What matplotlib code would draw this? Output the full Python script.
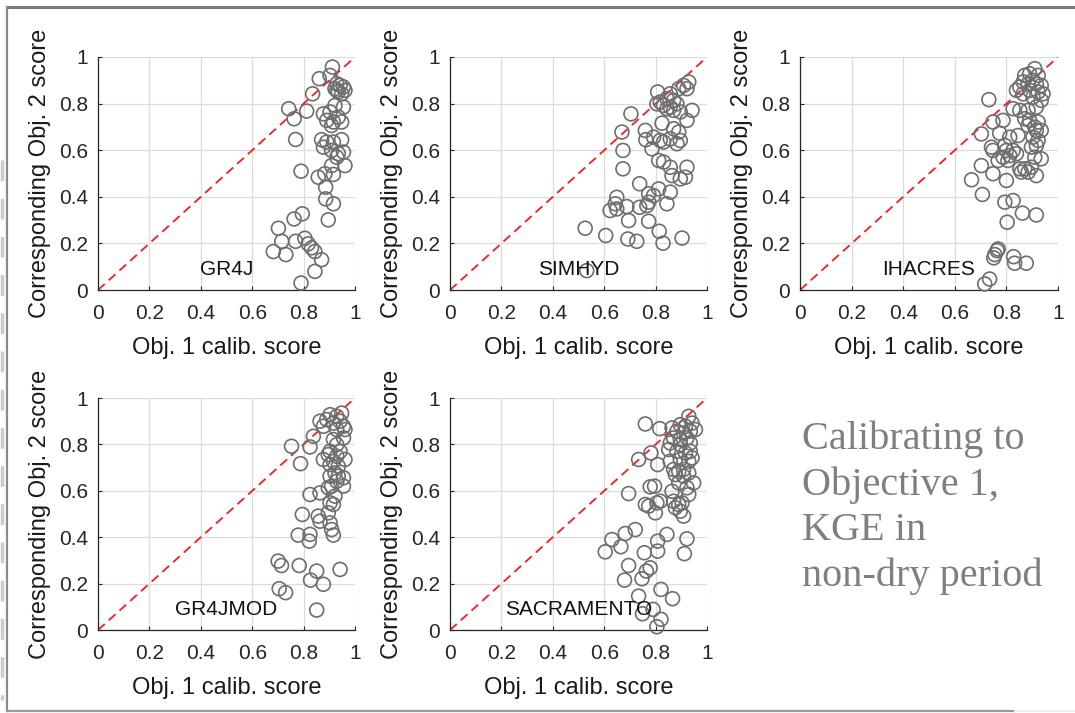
import matplotlib
matplotlib.use("Agg")
import matplotlib.pyplot as plt
from matplotlib.lines import Line2D

# calibration scores: x = objective 1 score, y = corresponding objective 2 score
gr4j_x = [0.912, 0.861, 0.903, 0.929, 0.942, 0.955, 0.922, 0.961, 0.935, 0.948, 0.929, 0.835,
          0.742, 0.812, 0.763, 0.922, 0.955, 0.877, 0.903, 0.935, 0.890, 0.916, 0.948, 0.909,
          0.769, 0.870, 0.890, 0.916, 0.948, 0.877, 0.909, 0.935, 0.955, 0.929, 0.961, 0.790,
          0.857, 0.883, 0.916, 0.909, 0.886, 0.886, 0.916, 0.896, 0.763, 0.795, 0.702, 0.715,
          0.769, 0.805, 0.818, 0.831, 0.844, 0.870, 0.682, 0.731, 0.844, 0.790]
gr4j_y = [0.957, 0.907, 0.921, 0.885, 0.878, 0.871, 0.864, 0.857, 0.850, 0.842, 0.857, 0.842,
          0.778, 0.768, 0.735, 0.792, 0.785, 0.756, 0.764, 0.742, 0.728, 0.721, 0.721, 0.706,
          0.646, 0.645, 0.635, 0.635, 0.645, 0.613, 0.599, 0.585, 0.592, 0.570, 0.534, 0.510,
          0.484, 0.499, 0.496, 0.534, 0.441, 0.391, 0.370, 0.301, 0.305, 0.327, 0.265, 0.209,
          0.209, 0.222, 0.198, 0.181, 0.165, 0.130, 0.165, 0.152, 0.080, 0.030]

simhyd_x = [0.929, 0.909, 0.890, 0.922, 0.808, 0.857, 0.844, 0.870, 0.818, 0.831, 0.857, 0.883,
            0.805, 0.844, 0.870, 0.942, 0.896, 0.922, 0.704, 0.825, 0.870, 0.890, 0.857, 0.896,
            0.883, 0.669, 0.760, 0.762, 0.792, 0.818, 0.831, 0.786, 0.673, 0.812, 0.831, 0.857,
            0.864, 0.896, 0.916, 0.922, 0.673, 0.738, 0.812, 0.773, 0.792, 0.857, 0.844, 0.649,
            0.643, 0.623, 0.649, 0.688, 0.738, 0.773, 0.766, 0.695, 0.773, 0.526, 0.606, 0.692,
            0.727, 0.814, 0.829, 0.903, 0.532]
simhyd_y = [0.893, 0.878, 0.864, 0.864, 0.850, 0.842, 0.821, 0.814, 0.807, 0.792, 0.785, 0.799,
            0.799, 0.778, 0.771, 0.771, 0.764, 0.728, 0.756, 0.716, 0.692, 0.678, 0.649, 0.642,
            0.628, 0.678, 0.685, 0.645, 0.656, 0.642, 0.635, 0.606, 0.599, 0.556, 0.549, 0.527,
            0.491, 0.477, 0.484, 0.527, 0.520, 0.456, 0.434, 0.413, 0.405, 0.420, 0.370, 0.398,
            0.370, 0.341, 0.348, 0.358, 0.355, 0.377, 0.362, 0.298, 0.295, 0.265, 0.234, 0.219,
            0.209, 0.252, 0.201, 0.223, 0.083]

ihacres_x = [0.910, 0.871, 0.890, 0.923, 0.903, 0.865, 0.852, 0.884, 0.916, 0.935, 0.839, 0.890,
             0.923, 0.942, 0.865, 0.903, 0.935, 0.732, 0.826, 0.852, 0.884, 0.916, 0.871, 0.890,
             0.923, 0.884, 0.910, 0.748, 0.787, 0.703, 0.774, 0.813, 0.845, 0.916, 0.935, 0.903,
             0.923, 0.897, 0.916, 0.742, 0.748, 0.794, 0.800, 0.826, 0.839, 0.787, 0.768, 0.806,
             0.813, 0.910, 0.935, 0.897, 0.703, 0.748, 0.800, 0.852, 0.871, 0.884, 0.916, 0.858,
             0.665, 0.707, 0.794, 0.826, 0.862, 0.916, 0.803, 0.764, 0.755, 0.751, 0.768, 0.828,
             0.832, 0.877, 0.735, 0.716]
ihacres_y = [0.950, 0.921, 0.928, 0.921, 0.900, 0.893, 0.871, 0.885, 0.885, 0.878, 0.857, 0.857,
             0.850, 0.842, 0.842, 0.828, 0.814, 0.817, 0.778, 0.771, 0.771, 0.785, 0.735, 0.728,
             0.721, 0.706, 0.699, 0.721, 0.728, 0.670, 0.673, 0.656, 0.663, 0.685, 0.685, 0.656,
             0.642, 0.613, 0.620, 0.613, 0.599, 0.620, 0.599, 0.599, 0.585, 0.570, 0.556, 0.556,
             0.577, 0.570, 0.563, 0.527, 0.534, 0.499, 0.470, 0.520, 0.520, 0.506, 0.491, 0.506,
             0.473, 0.410, 0.377, 0.384, 0.330, 0.322, 0.291, 0.169, 0.152, 0.138, 0.176, 0.143,
             0.115, 0.115, 0.047, 0.026]

gr4jmod_x = [0.948, 0.903, 0.929, 0.864, 0.890, 0.916, 0.942, 0.955, 0.929, 0.961, 0.877, 0.838,
             0.753, 0.825, 0.916, 0.955, 0.929, 0.903, 0.942, 0.788, 0.877, 0.896, 0.929, 0.961,
             0.916, 0.903, 0.935, 0.922, 0.903, 0.935, 0.955, 0.929, 0.955, 0.909, 0.896, 0.825,
             0.864, 0.922, 0.903, 0.916, 0.795, 0.857, 0.864, 0.896, 0.903, 0.909, 0.916, 0.779,
             0.825, 0.822, 0.701, 0.714, 0.783, 0.851, 0.942, 0.827, 0.877, 0.705, 0.730, 0.851]
gr4jmod_y = [0.935, 0.928, 0.921, 0.900, 0.907, 0.892, 0.900, 0.878, 0.864, 0.864, 0.878, 0.835,
             0.792, 0.789, 0.821, 0.828, 0.799, 0.770, 0.770, 0.717, 0.735, 0.756, 0.749, 0.735,
             0.727, 0.713, 0.706, 0.677, 0.663, 0.663, 0.656, 0.641, 0.620, 0.620, 0.613, 0.584,
             0.591, 0.577, 0.548, 0.541, 0.498, 0.491, 0.469, 0.505, 0.462, 0.433, 0.409, 0.409,
             0.412, 0.383, 0.297, 0.278, 0.278, 0.254, 0.261, 0.215, 0.197, 0.178, 0.161, 0.086]

sacramento_x = [0.929, 0.760, 0.816, 0.864, 0.896, 0.916, 0.942, 0.883, 0.909, 0.935, 0.955, 0.870,
                0.922, 0.896, 0.857, 0.896, 0.935, 0.851, 0.883, 0.916, 0.935, 0.782, 0.734, 0.808,
                0.857, 0.896, 0.942, 0.929, 0.870, 0.890, 0.909, 0.929, 0.877, 0.909, 0.948, 0.890,
                0.922, 0.929, 0.864, 0.695, 0.779, 0.796, 0.818, 0.805, 0.760, 0.773, 0.799, 0.870,
                0.890, 0.903, 0.877, 0.896, 0.909, 0.721, 0.682, 0.630, 0.665, 0.604, 0.808, 0.844,
                0.922, 0.912, 0.756, 0.808, 0.695, 0.779, 0.764, 0.747, 0.679, 0.821, 0.866, 0.734,
                0.749, 0.790, 0.821, 0.805]
sacramento_y = [0.921, 0.888, 0.868, 0.871, 0.885, 0.878, 0.892, 0.857, 0.849, 0.857, 0.864, 0.828,
                0.828, 0.821, 0.806, 0.799, 0.806, 0.778, 0.770, 0.763, 0.770, 0.763, 0.735, 0.713,
                0.727, 0.735, 0.742, 0.727, 0.692, 0.684, 0.692, 0.677, 0.670, 0.663, 0.634, 0.634,
                0.613, 0.584, 0.598, 0.588, 0.617, 0.620, 0.555, 0.548, 0.541, 0.534, 0.505, 0.555,
                0.541, 0.548, 0.527, 0.512, 0.491, 0.433, 0.416, 0.390, 0.359, 0.337, 0.383, 0.412,
                0.393, 0.329, 0.333, 0.340, 0.278, 0.268, 0.254, 0.221, 0.215, 0.175, 0.135, 0.146,
                0.070, 0.089, 0.046, 0.014]

models = ["GR4J", "SIMHYD", "IHACRES", "GR4JMOD", "SACRAMENTO"]
xs = [gr4j_x, simhyd_x, ihacres_x, gr4jmod_x, sacramento_x]
ys = [gr4j_y, simhyd_y, ihacres_y, gr4jmod_y, sacramento_y]
ticks = [0, 0.2, 0.4, 0.6, 0.8, 1]
tick_labels = ["0", "0.2", "0.4", "0.6", "0.8", "1"]

plt.rcParams["font.family"] = "Liberation Sans"

W, H = 1075, 713
fig = plt.figure(figsize=(W / 100, H / 100), dpi=100)

# axes boxes in pixels: left, top, width, height
boxes = [(98, 57, 257, 233), (450, 57, 257, 233), (800, 57, 258, 233),
         (98, 398, 257, 232), (450, 398, 257, 232)]

for name, x, y, (l, t, w, h) in zip(models, xs, ys, boxes):
    ax = fig.add_axes([l / W, (H - t - h) / H, w / W, h / H])
    ax.set_xlim(0, 1)
    ax.set_ylim(0, 1)
    ax.grid(True, color="#dcdcdc", lw=0.9)
    ax.set_axisbelow(True)
    for s in ["top", "right"]:
        ax.spines[s].set_visible(False)
    for s in ["left", "bottom"]:
        ax.spines[s].set_color("#262626")
        ax.spines[s].set_linewidth(0.9)
    ax.plot([0, 1], [0, 1], color="#ff1a1a", lw=1.3, ls=(0, (5, 3)), zorder=2)
    ax.scatter(x, y, s=100, facecolors="none", edgecolors="#6e6e6e",
               linewidths=1.2, zorder=3, clip_on=False)
    ax.text(0.5, 0.09, name, ha="center", va="center", fontsize=15, color="#111111", zorder=4)
    ax.set_xticks(ticks)
    ax.set_yticks(ticks)
    ax.set_xticklabels(tick_labels)
    ax.set_yticklabels(tick_labels)
    ax.tick_params(direction="in", length=3, width=0.8, color="#262626",
                   labelsize=15, labelcolor="#262626")
    ax.tick_params(axis="x", pad=10)
    ax.tick_params(axis="y", pad=7)
    ax.set_xlabel("Obj. 1 calib. score", fontsize=17, color="#1a1a1a", labelpad=10)
    ax.set_ylabel("Corresponding Obj. 2 score", fontsize=17, color="#1a1a1a", labelpad=6)

fig.text(802 / W, 1 - 420 / H,
         "Calibrating to\nObjective 1,\nKGE in\nnon-dry period",
         family="Liberation Serif", fontsize=29, color="#7f7f7f",
         ha="left", va="top", linespacing=1.3)

# outer frame lines
def px_line(x0, y0, x1, y1, **kw):
    fig.add_artist(Line2D([x0 / W, x1 / W], [1 - y0 / H, 1 - y1 / H],
                          transform=fig.transFigure, **kw))

px_line(7, 7, W, 7, color="#7a7a7a", lw=2.2)
px_line(7, 7, 7, 711, color="#8a8a8a", lw=1.6)
px_line(7, 711, 1015, 711, color="#9a9a9a", lw=1.6)
px_line(1015, 711, W, 711, color="#eeeeee", lw=1.6)
px_line(1.5, 160, 1.5, 700, color="#cccccc", lw=2.5, ls=(0, (6, 5)))

fig.savefig("out.png", dpi=100)
